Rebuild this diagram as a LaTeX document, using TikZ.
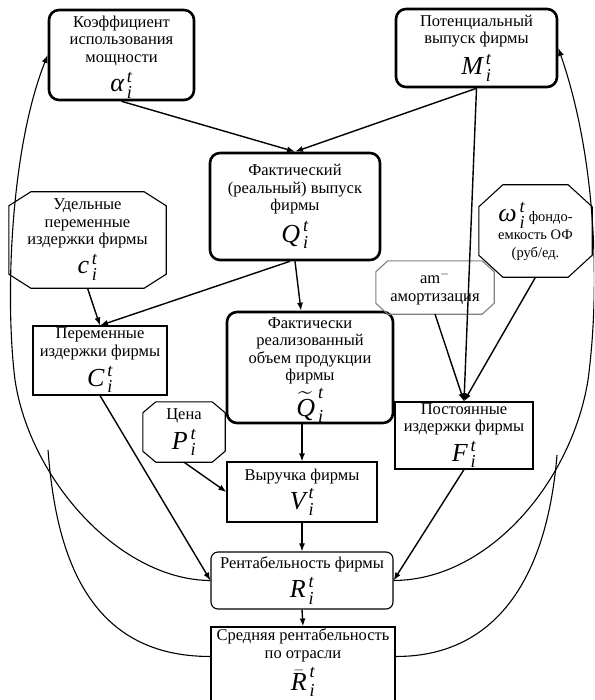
\documentclass[tikz,border=0pt]{standalone}
\usepackage{amsmath}
\usepackage{fontspec}
\setmainfont{Liberation Serif}
\usetikzlibrary{arrows.meta}
\newcommand{\txt}{\fontsize{16.5}{17.5}\selectfont}
\newcommand{\smtxt}{\fontsize{14.5}{18}\selectfont}
\newcommand{\mth}[1]{{\fontsize{26}{26}\selectfont$#1$}}
\newcommand{\iv}[1]{\textit{#1}}
\newcommand{\vv}[1]{\mth{\iv{#1}^{\,\iv{t}}_{\,\iv{i}}}}
\newcommand{\drawocta}[4]{%
  \draw[#4] ([xshift=#2]#1.north west) -- ([xshift=-#2]#1.north east) -- ([yshift=-#3]#1.north east)
   -- ([yshift=#3]#1.south east) -- ([xshift=-#2]#1.south east) -- ([xshift=#2]#1.south west)
   -- ([yshift=#3]#1.south west) -- ([yshift=-#3]#1.north west) -- cycle;}
\tikzset{
  thickbox/.style={draw, line width=2.6pt, rounded corners=10pt, align=center, font=\txt, inner sep=0pt},
  thinbox/.style={draw, line width=1.1pt, align=center, font=\txt, inner sep=0pt},
  roundbox/.style={thinbox, rounded corners=7pt},
  octnode/.style={align=center, font=\txt, inner sep=0pt},
  octline/.style={line width=1.1pt},
  arr/.style={line width=1.4pt, -{Latex[length=8pt,width=6pt]}},
  curve/.style={line width=1.1pt},
}
\begin{document}
\begin{tikzpicture}[x=1pt,y=-1pt]
\clip (0,0) rectangle (594,700);
\fill[white] (0,0) rectangle (594,700);
% boxes
\node[thickbox, minimum width=145pt, minimum height=90pt] (al) at (121.5,55)
  {\rule{0pt}{16pt}Коэффициент\\использования\\мощности\\[6pt]\mth{\iv{α}^{\,\iv{t}}_{\,\iv{i}}}};
\node[thickbox, minimum width=161pt, minimum height=78pt] (M) at (476.5,48)
  {Потенциальный\\выпуск фирмы\\[6pt]\vv{M}};
\node[thickbox, minimum width=170pt, minimum height=107pt] (Q) at (295,206.5)
  {Фактический\\(реальный) выпуск\\фирмы\\[6pt]\vv{Q}};
\node[octnode, minimum width=157pt, minimum height=96pt] (c) at (87.5,240)
  {Удельные\\переменные\\издержки фирмы\\[5pt]\vv{c}};
\drawocta{c}{22pt}{14pt}{octline}
\node[thinbox, minimum width=134pt, minimum height=69pt] (C) at (100,360.5)
  {Переменные\\издержки фирмы\\[5pt]\vv{C}};
\node[thickbox, minimum width=166pt, minimum height=111pt] (Qt) at (310,367.5)
  {\rule{0pt}{16pt}Фактически\\реализованный\\объем продукции\\фирмы\\[3pt]\mth{\widetilde{\iv{Q}}^{\,\iv{t}}_{\,\iv{i}}}};
\node[octnode, minimum width=118pt, minimum height=53pt] (am) at (435,287.5)
  {am$^{-}$\\амортизация};
\drawocta{am}{12pt}{11pt}{octline, draw=gray}
\node[octnode, font=\smtxt, minimum width=113pt, minimum height=92pt] (om) at (535.5,231)
  {\mth{\iv{ω}^{\,\iv{t}}_{\,\iv{i}}} фондо-\\емкость ОФ\\(руб/ед.};
\drawocta{om}{24pt}{22pt}{octline}
\node[octnode, minimum width=82pt, minimum height=60pt] (P) at (184,432)
  {Цена\\[5pt]\vv{P}};
\drawocta{P}{13pt}{11pt}{octline}
\node[thinbox, minimum width=138pt, minimum height=67pt] (F) at (464,435.5)
  {Постоянные\\издержки фирмы\\[5pt]\vv{F}};
\node[thinbox, minimum width=150pt, minimum height=60pt] (V) at (302,492)
  {Выручка фирмы\\[4pt]\vv{V}};
\node[roundbox, minimum width=182pt, minimum height=57pt] (R) at (302,580.5)
  {Рентабельность фирмы\\[4pt]\vv{R}};
\node[thinbox, minimum width=184pt, minimum height=113pt] (rb) at (303,683.5) {};
\node[align=center, font=\txt, inner sep=0pt] (rbt) at (303,663)
  {Средняя рентабельность\\по отрасли\\[4pt]\mth{\bar{\iv{R}}^{\,\iv{t}}_{\,\iv{i}}}};
% straight connectors
\draw[arr] (al.south) -- (Q.north);
\draw[arr] (M.south) -- (Q.north);
\draw[arr] (M.south) -- (F.north);
\draw[arr] (am.south) -- (F.north);
\draw[arr] (om.south) -- (F.north);
\draw[arr] ([xshift=-5pt]Q.south) -- (C.north);
\draw[arr] (Q.south) -- ([xshift=-9pt]Qt.north);
\draw[arr] (c.south) -- (C.north);
\draw[arr] (C.south) -- (R.west);
\draw[arr] (P.south) -- (V.west);
\draw[arr] (Qt.south -| V.north) -- (V.north);
\draw[arr] (V.south) -- (R.north);
\draw[arr] (F.south) -- (R.east);
\draw[arr] (R.south) -- (rb.north);
% curves
\coordinate (lend) at (48,450);
\coordinate (rend) at (557,455);
\draw[curve, -{Latex[length=8pt,width=6pt]}] (R.west) .. controls (120,580) and (30,480) .. (15,380)
  .. controls (5,300) and (10,150) .. (al.west);
\draw[curve] ([yshift=-30pt]rb.north west) .. controls (80,657) and (55,540) .. (lend);
\draw[curve, -{Latex[length=8pt,width=6pt]}] (R.east) .. controls (490,580) and (572,480) .. (588,380)
  .. controls (600,290) and (597,160) .. (M.east);
\draw[curve] ([yshift=-30pt]rb.north east) .. controls (480,657) and (545,600) .. (rend);
\end{tikzpicture}
\end{document}
